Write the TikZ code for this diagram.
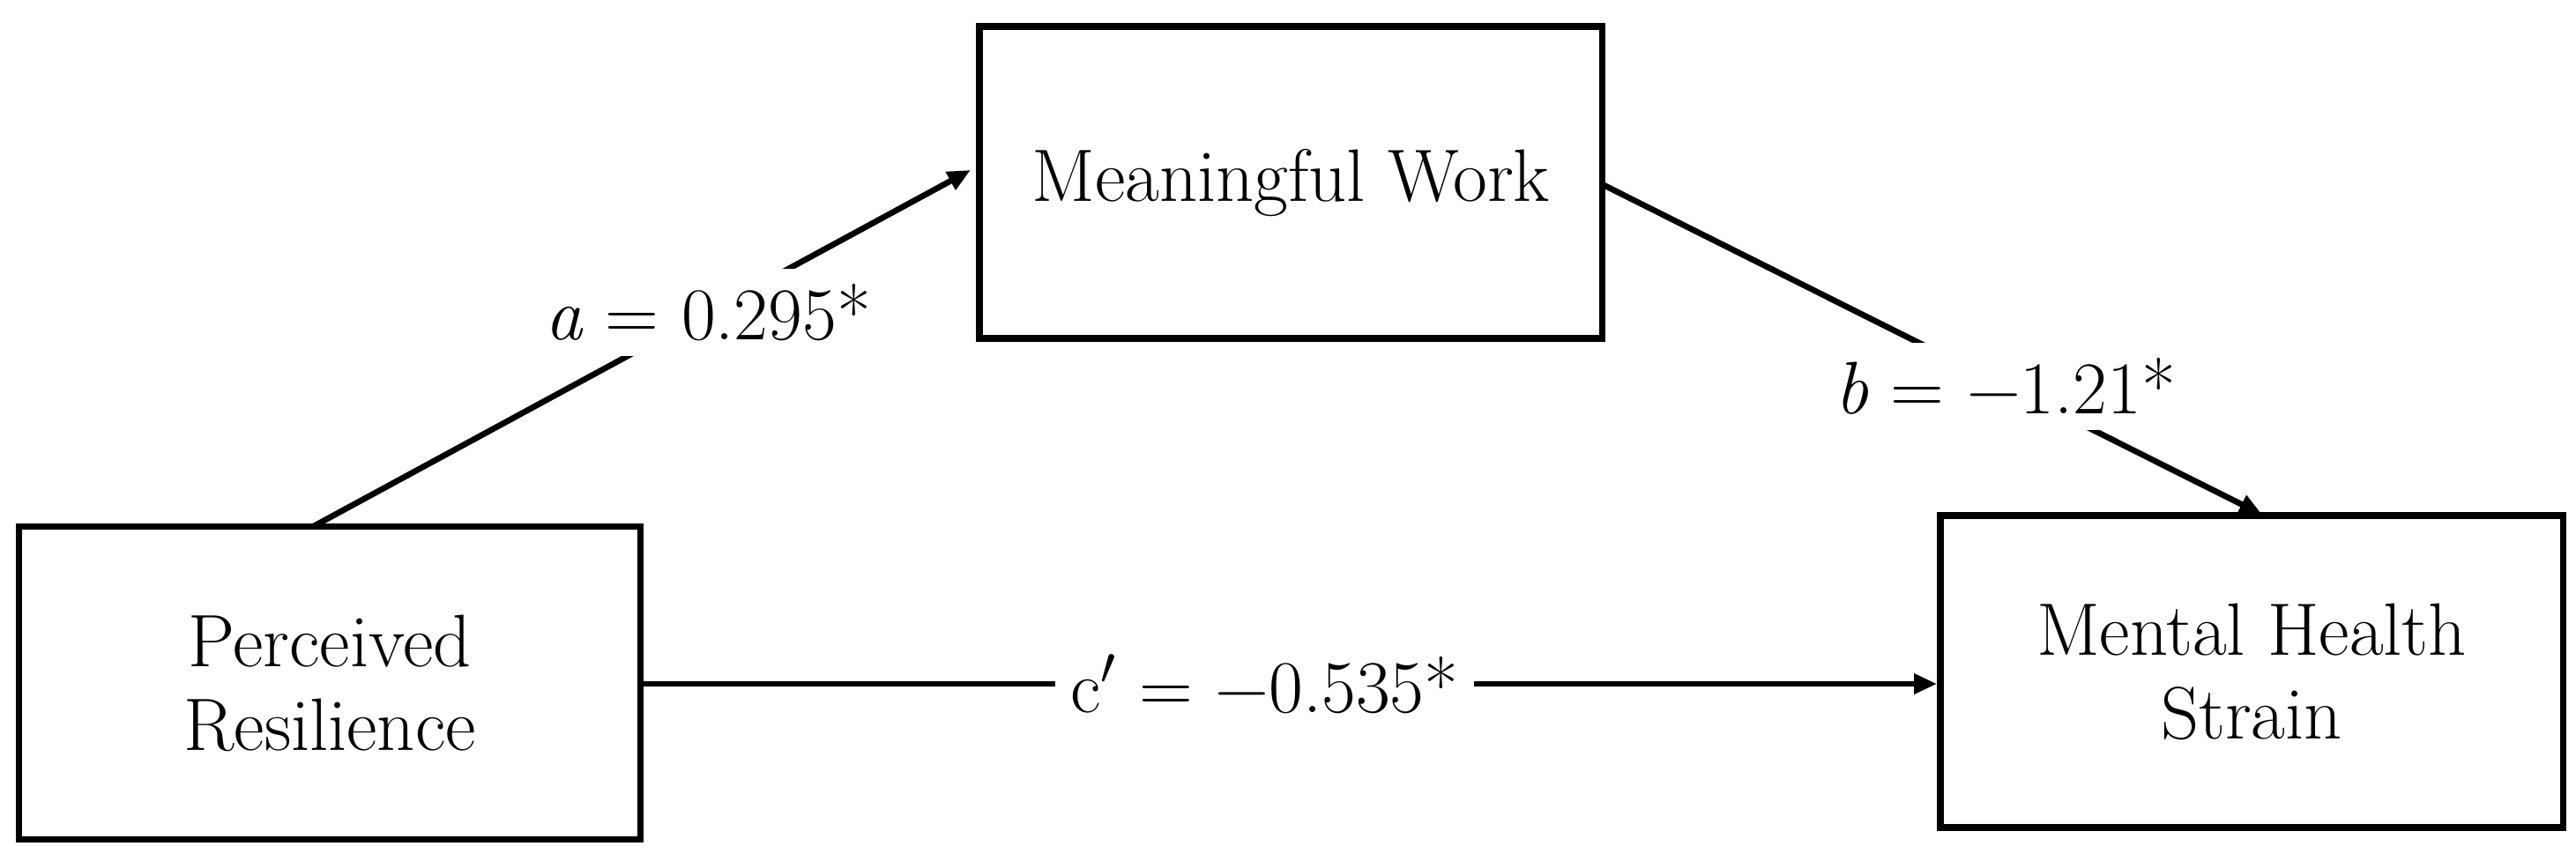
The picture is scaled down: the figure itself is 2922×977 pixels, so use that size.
\documentclass[tikz,border=0pt]{standalone}
\usetikzlibrary{arrows.meta}
\begin{document}
\begin{tikzpicture}[x=0.01cm,y=-0.01cm,
  box/.style={draw,line width=2.1pt,align=center,font=\fontsize{24}{27}\selectfont,inner sep=0pt},
  conn/.style={line width=1.9pt,-{Triangle[length=0.26cm,width=0.22cm]}},
  lab/.style={fill=white,font=\fontsize{24}{27}\selectfont,inner sep=5pt}]
\useasboundingbox (0,0) rectangle (2922,977);
\node[box,minimum width=7.06cm,minimum height=3.54cm] (mw) at (1464,207) {Meaningful Work};
\node[box,minimum width=7.05cm,minimum height=3.55cm] (pr) at (374,775) {Perceived\\Resilience};
\node[box,minimum width=7.06cm,minimum height=3.54cm] (mh) at (2554,762) {Mental Health\\Strain};
\coordinate (as) at (356,597);
\coordinate (ae) at (1101,193);
\coordinate (bs) at (1819,210);
\coordinate (be) at (2566,584);
\draw[conn] (as) -- node[lab,pos=0.6]{\textit{a} = 0.295*} (ae);
\draw[conn] (bs) -- node[lab,pos=0.61]{\textit{b} = \textminus1.21*} (be);
\draw[conn] (pr.east |- 0,776) -- node[lab,pos=0.48]{c$'$ = \textminus0.535*} (mh.west |- 0,776);
\end{tikzpicture}
\end{document}
